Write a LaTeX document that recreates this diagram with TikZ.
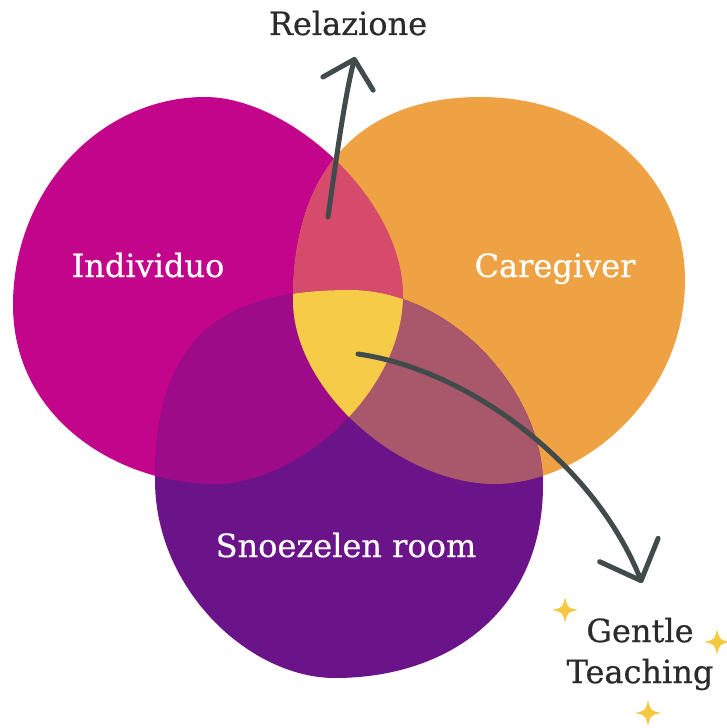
\documentclass[tikz,border=0pt]{standalone}
\usepackage{fontspec}
\setmainfont{DejaVu Serif}
\newfontfamily\slab[FakeBold=0.6]{DejaVu Serif}
\usetikzlibrary{arrows.meta}
\definecolor{cM}{HTML}{C2058A}
\definecolor{cO}{HTML}{EFA243}
\definecolor{cP}{HTML}{6B1389}
\definecolor{cMO}{HTML}{D64B6B}
\definecolor{cMP}{HTML}{9D0B88}
\definecolor{cOP}{HTML}{A9576A}
\definecolor{cMOP}{HTML}{F6CB47}
\definecolor{cArr}{HTML}{414B4B}
\definecolor{cTxt}{HTML}{2B2B2B}
\definecolor{cStar}{HTML}{F5C83F}
\begin{document}
\begin{tikzpicture}[x=1bp,y=-1bp,
  blobM/.style={insert path={(13,305) .. controls (13,190) and (100,97) .. (205,97)
    .. controls (290,97) and (403,200) .. (403,295)
    .. controls (403,390) and (300,484) .. (215,484)
    .. controls (120,484) and (13,420) .. cycle}},
  blobO/.style={insert path={(480,97) .. controls (600,97) and (685,180) .. (685,280)
    .. controls (685,400) and (580,484) .. (495,484)
    .. controls (400,484) and (293,390) .. (293,300)
    .. controls (293,160) and (370,97) .. cycle}},
  blobP/.style={insert path={(350,290) .. controls (450,290) and (543,390) .. (543,485)
    .. controls (543,610) and (450,678) .. (335,678)
    .. controls (250,678) and (155,590) .. (155,480)
    .. controls (155,330) and (230,290) .. cycle}},
  lab/.style={font=\slab\fontsize{32bp}{38bp}\selectfont, text=white, inner sep=0pt, anchor=base},
  darklab/.style={lab, text=cTxt},
  conn/.style={draw=cArr, line width=5bp, line cap=round},
  sparkle/.style={fill=cStar}
]
\useasboundingbox (0,0) rectangle (727,728);
% base blobs
\fill[cM, blobM];
\fill[cO, blobO];
\fill[cP, blobP];
% pairwise overlaps
\begin{scope}\clip[blobM]; \fill[cMO, blobO];\end{scope}
\begin{scope}\clip[blobM]; \fill[cMP, blobP];\end{scope}
\begin{scope}\clip[blobO]; \fill[cOP, blobP];\end{scope}
% triple overlap
\begin{scope}\clip[blobM]; \clip[blobO]; \fill[cMOP, blobP];\end{scope}
% labels
\node[lab] (ind) at (148,277) {Individuo};
\node[lab] (care) at (555,277) {Caregiver};
\node[lab] (snoe) at (346,557) {Snoezelen room};
\node[darklab] (rel) at (348,35) {Relazione};
\node[darklab, align=center, anchor=center, font=\slab\fontsize{32bp}{41bp}\selectfont] (gt) at (640,654) {Gentle\\Teaching};
% connectors
\coordinate (r0) at (328,217);
\coordinate (r1) at (355,57);
\coordinate (g0) at (358,354);
\coordinate (g1) at (642,583);
\draw[conn, -{Straight Barb[round, length=25bp, width=52bp]}]
  (r0) .. controls (336,160) and (345,95) .. (r1);
\draw[conn, -{Straight Barb[round, length=33bp, width=63bp]}]
  (g0) .. controls (470,370) and (595,465) .. (g1);
% sparkles
\foreach \cx/\cy/\r in {565/610/13, 717/642/13, 648/713/13}{
  \begin{scope}[shift={(\cx,\cy)}]
  \fill[sparkle] (0,-\r) .. controls (0.18*\r,-0.18*\r) .. (\r,0)
     .. controls (0.18*\r,0.18*\r) .. (0,\r)
     .. controls (-0.18*\r,0.18*\r) .. (-\r,0)
     .. controls (-0.18*\r,-0.18*\r) .. cycle;
  \end{scope}
}
\end{tikzpicture}
\end{document}
